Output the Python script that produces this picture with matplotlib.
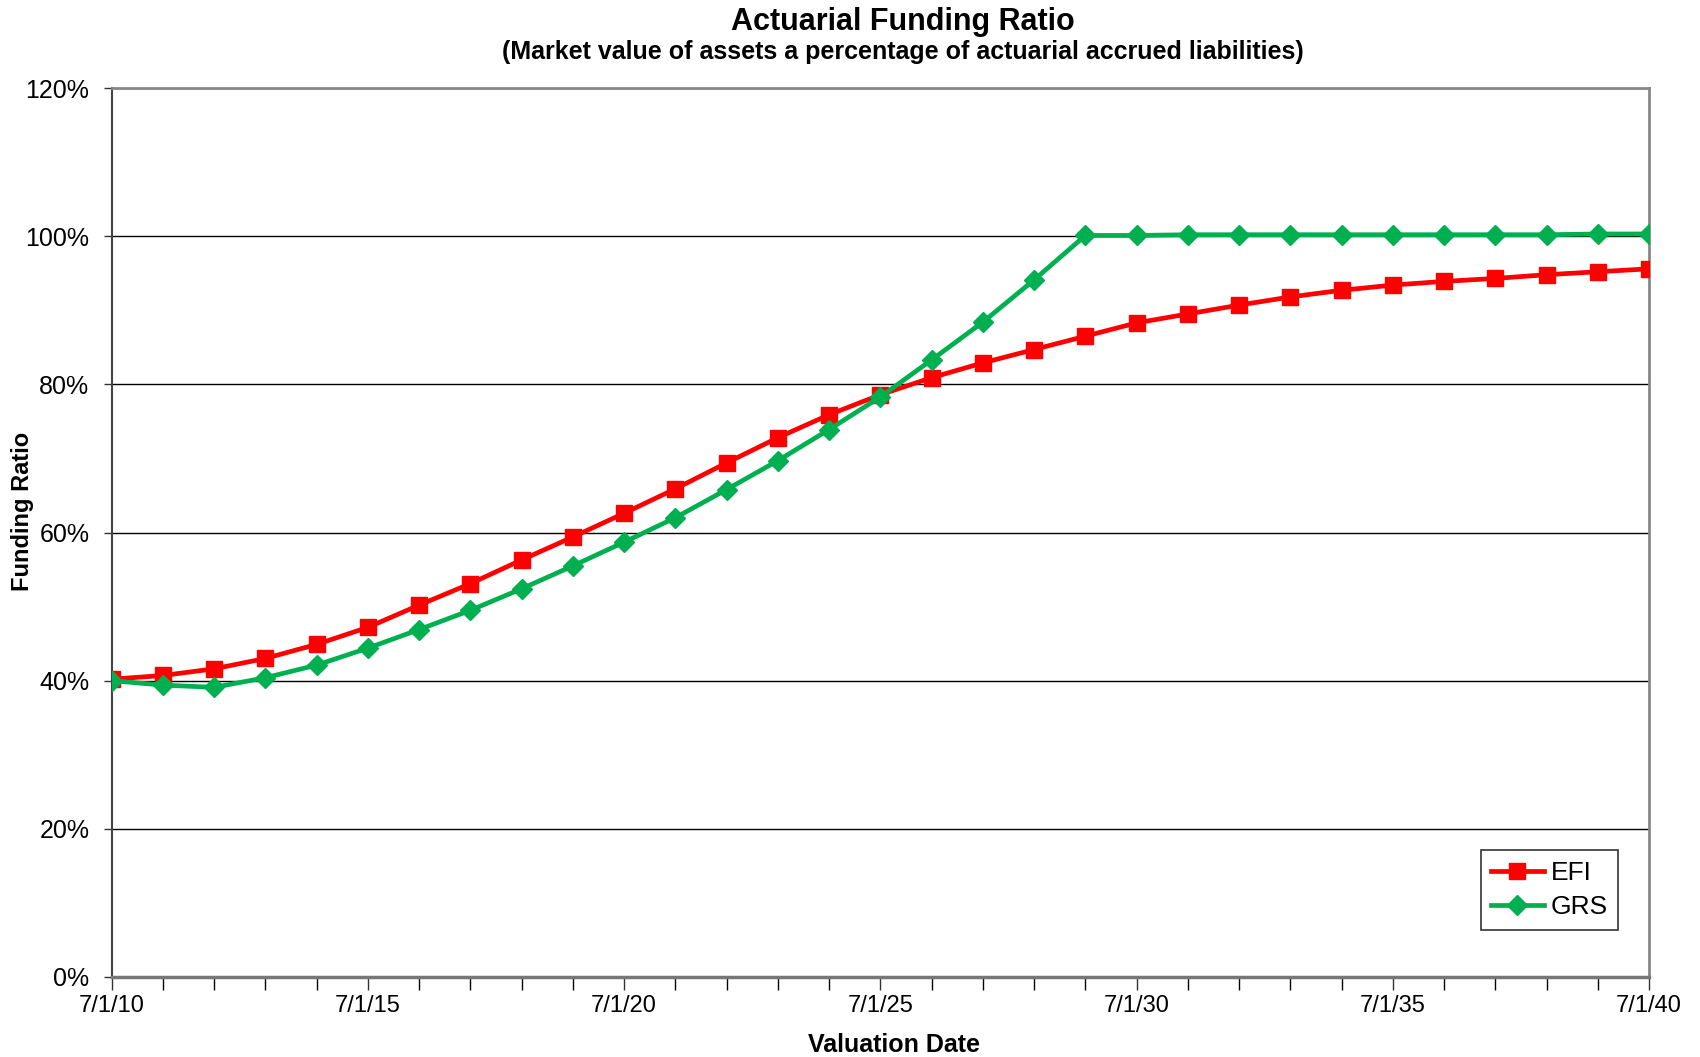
import matplotlib
matplotlib.use("Agg")
import matplotlib.pyplot as plt
from matplotlib.ticker import MultipleLocator, FixedLocator, PercentFormatter

plt.rcParams['font.family'] = ['Liberation Sans', 'DejaVu Sans']

# Valuation years (each valuation is on 7/1 of the year)
years = list(range(2010, 2041))

# Funding ratio, market value of assets as % of accrued liabilities
efi = [40.2, 40.7, 41.6, 43.0, 44.9, 47.2, 50.2, 53.1, 56.3, 59.4,
       62.6, 65.9, 69.4, 72.8, 75.9, 78.6, 80.9, 82.9, 84.7, 86.5,
       88.3, 89.5, 90.7, 91.8, 92.7, 93.4, 93.9, 94.3, 94.8, 95.2,
       95.6]
grs = [40.0, 39.4, 39.1, 40.4, 42.1, 44.4, 46.9, 49.5, 52.4, 55.5,
       58.7, 62.0, 65.8, 69.7, 73.9, 78.3, 83.3, 88.4, 94.1, 100.1,
       100.1, 100.2, 100.2, 100.2, 100.2, 100.2, 100.2, 100.2, 100.2, 100.3,
       100.3]

label_years = [2010, 2015, 2020, 2025, 2030, 2035, 2040]

fig = plt.figure(figsize=(17, 10.57), dpi=100)
ax = fig.add_axes([0.0657, 0.0757, 0.9043, 0.841])

ax.plot(years, efi, color='#FF0000', lw=3.4, marker='s', markersize=12,
        label='EFI', zorder=3)
ax.plot(years, grs, color='#00B050', lw=3.4, marker='D', markersize=10,
        label='GRS', zorder=4)

ax.set_xlim(2010, 2040)
ax.set_ylim(0, 120)
ax.yaxis.set_major_locator(MultipleLocator(20))
ax.yaxis.set_major_formatter(PercentFormatter(decimals=0))
ax.xaxis.set_major_locator(FixedLocator(label_years))
ax.xaxis.set_minor_locator(MultipleLocator(1))
ax.set_xticklabels([f"7/1/{y % 100:02d}" for y in label_years])

ax.grid(axis='y', color='black', lw=1.0)
ax.set_axisbelow(True)

for side in ['top', 'right']:
    ax.spines[side].set_color('#888888')
    ax.spines[side].set_linewidth(2)
ax.spines['left'].set_color('#444444')
ax.spines['bottom'].set_color('#777777')
ax.spines['left'].set_linewidth(1.5)
ax.spines['bottom'].set_linewidth(2.5)

ax.tick_params(axis='both', colors='#333333', labelcolor='black')
ax.tick_params(axis='x', which='both', length=9, width=1, pad=4, labelsize=17)
ax.tick_params(axis='y', length=6, width=1, pad=10, labelsize=18)

# axis titles placed in figure coordinates
fig.text(0.526, 0.011, 'Valuation Date', ha='center', va='center',
         fontsize=18, fontweight='bold')
fig.text(0.0135, 0.516, 'Funding Ratio', ha='center', va='center',
         rotation=90, fontsize=17, fontweight='bold')

fig.text(0.531, 0.979, 'Actuarial Funding Ratio', ha='center', va='center',
         fontsize=22, fontweight='bold')
fig.text(0.531, 0.951, '(Market value of assets a percentage of actuarial accrued liabilities)',
         ha='center', va='center', fontsize=18, fontweight='bold')

leg = ax.legend(loc='lower right', bbox_to_anchor=(0.9885, 0.038), fontsize=19,
                frameon=True, fancybox=False, edgecolor='black', handlelength=2.0,
                borderpad=0.4, labelspacing=0.4, handletextpad=0.25)
leg.get_frame().set_linewidth(1.2)

fig.savefig('out.png', dpi=100)
